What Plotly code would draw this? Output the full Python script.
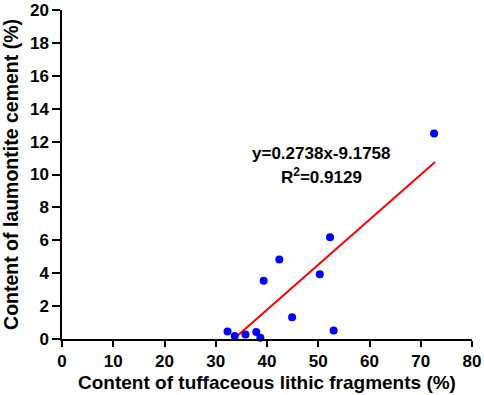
import plotly.graph_objects as go

x_vals = [72.6, 52.3, 42.4, 50.3, 39.35, 44.9, 53.0, 32.3, 33.7, 35.8, 37.9, 38.7]
y_vals = [12.5, 6.18, 4.84, 3.94, 3.54, 1.32, 0.51, 0.45, 0.18, 0.28, 0.43, 0.08]
fit_slope = 0.2738
fit_intercept = -9.1758
fit_x = [33.51, 72.8]
fit_y = [fit_slope * v + fit_intercept for v in fit_x]
x_ticks = [0, 10, 20, 30, 40, 50, 60, 70, 80]
y_ticks = [0, 2, 4, 6, 8, 10, 12, 14, 16, 18, 20]

font_family = "Liberation Sans, Arial, sans-serif"

fig = go.Figure()
fig.add_trace(go.Scatter(x=fit_x, y=fit_y, mode="lines",
                         line=dict(color="#ff0000", width=2), cliponaxis=False))
fig.add_trace(go.Scatter(x=x_vals, y=y_vals, mode="markers",
                         marker=dict(color="#0000ff", size=8), cliponaxis=False))

fig.add_annotation(x=50.7, y=11.3, text="<b>y=0.2738x-9.1758</b>", showarrow=False,
                   font=dict(size=17, color="black", family=font_family))
fig.add_annotation(x=50.7, y=9.93, text="<b>R<sup>2</sup>=0.9129</b>", showarrow=False,
                   font=dict(size=17, color="black", family=font_family))

axis_common = dict(showgrid=False, zeroline=False, showline=True, linecolor="black",
                   linewidth=1.5, ticks="outside", tickwidth=1.5, tickcolor="black",
                   automargin=False,
                   tickfont=dict(size=17, color="black", family=font_family))

fig.update_xaxes(range=[0, 80], tickvals=x_ticks, ticktext=[f"<b>{v}</b>" for v in x_ticks],
                 ticklen=6,
                 title=dict(text="<b>Content of tuffaceous lithic fragments (%)</b>",
                            font=dict(size=19, color="black", family=font_family), standoff=6),
                 **axis_common)
fig.update_yaxes(range=[0, 20], tickvals=y_ticks, ticktext=[f"<b>{v}</b>" for v in y_ticks],
                 ticklen=8,
                 title=dict(text="<b>Content of laumontite cement (%)</b>",
                            font=dict(size=19.5, color="black", family=font_family), standoff=8),
                 **axis_common)

fig.update_layout(width=484, height=395, margin=dict(l=62, r=12, t=10, b=56),
                  plot_bgcolor="white", paper_bgcolor="white", showlegend=False)

fig.write_html("out.html", config={"displayModeBar": False},
               post_script="document.body.style.margin='0';document.body.style.overflow='hidden';")
